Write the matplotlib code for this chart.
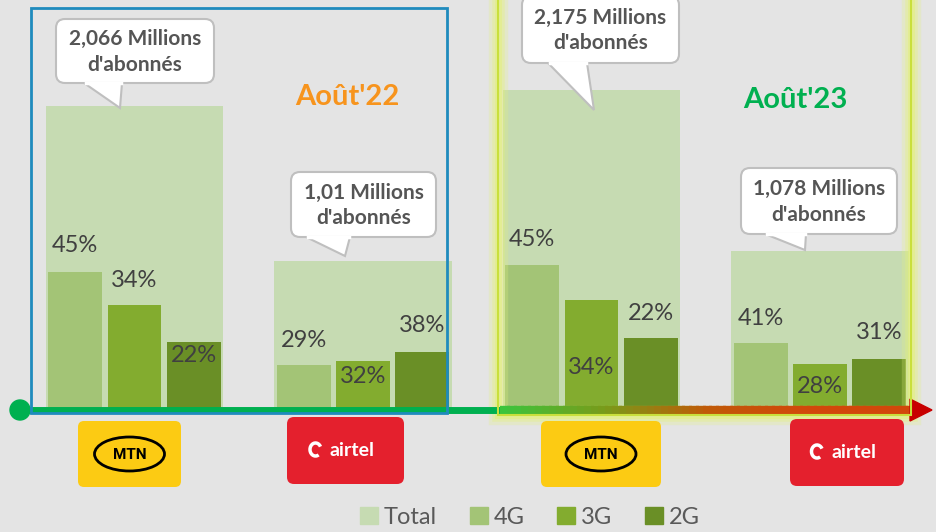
import numpy as np
import matplotlib
matplotlib.use('Agg')
import matplotlib.pyplot as plt
from matplotlib.patches import FancyBboxPatch, Rectangle, Ellipse, Polygon, Circle, Patch, Arc
from matplotlib.collections import LineCollection

operators = ['MTN', 'Airtel', 'MTN', 'Airtel']
periods = ["Août'22", "Août'23"]
totals = [2.066, 1.01, 2.175, 1.078]
share_4g = [45, 29, 45, 41]
share_3g = [34, 32, 34, 28]
share_2g = [22, 38, 22, 31]
total_labels = ["2,066 Millions\nd'abonnés", "1,01 Millions\nd'abonnés",
                "2,175 Millions\nd'abonnés", "1,078 Millions\nd'abonnés"]
legend_labels = ['Total', '4G', '3G', '2G']

W, H = 936, 532
BG = '#e4e4e4'
c_total, c_4g, c_3g, c_2g = '#c6dbb2', '#a3c476', '#83ac2f', '#6a8f26'
txt_grey = '#404040'

fig = plt.figure(figsize=(W / 100, H / 100), dpi=100)
fig.patch.set_facecolor(BG)

# data axes: x = operator index, y = millions of subscribers
ax = fig.add_axes([0, 0, 1, 1])
ax.set_facecolor('none')
px_per_unit = 228.5
px_per_m = 146
ax.set_xlim(-134.5 / px_per_unit, (W - 134.5) / px_per_unit)
ax.set_ylim(-124 / px_per_m, (H - 124) / px_per_m)
ax.axis('off')

x = np.arange(len(totals))
tot = np.array(totals)
v4 = tot * np.array(share_4g) / 100
v3 = tot * np.array(share_3g) / 100
v2 = tot * np.array(share_2g) / 100

ax.bar(x, tot, width=0.775, color=c_total, zorder=1)
sw, off = 0.236, 0.26
b4 = ax.bar(x - off, v4, width=sw, color=c_4g, zorder=2)
b3 = ax.bar(x, v3, width=sw, color=c_3g, zorder=2)
b2 = ax.bar(x + off, v2, width=sw, color=c_2g, zorder=2)

# label offsets in pixels (positive = above bar top, negative = inside)
offsets = [[27, 25, -14], [25, -16, 26], [26, -67, 25], [25, -23, 27]]
for i in range(len(totals)):
    for j, (bars, shares) in enumerate([(b4, share_4g), (b3, share_3g), (b2, share_2g)]):
        r = bars[i]
        ax.annotate(f'{shares[i]}%', (r.get_x() + r.get_width() / 2, r.get_height()),
                    xytext=(0, offsets[i][j] * 0.72), textcoords='offset points',
                    ha='center', va='center', fontsize=17, color=txt_grey,
                    family='Lato', zorder=5)

# overlay axes in pixel units for decorations
ov = fig.add_axes([0, 0, 1, 1])
ov.set_facecolor('none')
ov.set_xlim(0, W)
ov.set_ylim(H, 0)
ov.axis('off')

# Août'23 glow (under the timeline)
for lw, a in [(14, 0.25), (9, 0.35), (5, 0.5)]:
    ov.add_patch(Rectangle((498, -5), 413, 420, fill=False, ec='#e3f07a', lw=lw, alpha=a, zorder=1))

# timeline
ov.plot([20, 505], [410, 410], color='#00b050', lw=5, solid_capstyle='butt', zorder=2)
xs = np.linspace(500, 912, 60)
segs = [[(xs[k], 410), (xs[k + 1] + 3, 410)] for k in range(len(xs) - 1)]
grad = matplotlib.colors.LinearSegmentedColormap.from_list(
    'tl', ['#3cc43c', '#7a9a1a', '#c05a08', '#d2480a', '#d2480a'])
ov.add_collection(LineCollection(segs, colors=grad(np.linspace(0, 1, len(segs))), lw=6,
                                 capstyle='butt', zorder=2))
ov.add_patch(Polygon([(910, 399), (932, 410), (910, 421)], closed=True, color='#c80000', zorder=2))
ov.add_patch(Circle((20, 410), 10, color='#00b050', zorder=3))

# Août'22 frame
ov.add_patch(Rectangle((31, 8), 416, 405, fill=False, ec='#1f8bbd', lw=2, zorder=3))
# Août'23 frame line
ov.add_patch(Rectangle((498, -5), 413, 420, fill=False, ec='#c9df3c', lw=1.5, zorder=3))

ov.text(347, 97, periods[0], color='#f7941d', fontsize=21, fontweight='bold',
        family='Lato', ha='center', va='center')
ov.text(795, 100, periods[1], color='#00b050', fontsize=21, fontweight='bold',
        family='Lato', ha='center', va='center')

# callouts
boxes = [(56, 19, 158, 64), (291, 172, 145, 65), (522, -4, 157, 67), (741, 168, 156, 66)]
tails = [[(84, 83), (120, 108), (122, 83)], [(306, 237), (345, 256), (350, 237)],
         [(548, 63), (594, 110), (587, 63)], [(765, 234), (805, 250), (806, 234)]]
for (bx, by, bw, bh), tail, lab in zip(boxes, tails, total_labels):
    ov.add_patch(Polygon(tail, closed=True, fc='white', ec='#bfbfbf', lw=1.5, zorder=6))
    ov.add_patch(FancyBboxPatch((bx, by), bw, bh, boxstyle='round,pad=0,rounding_size=9',
                                fc='white', ec='#bfbfbf', lw=1.5, zorder=6))
    ov.plot([tail[0][0] + 1.5, tail[2][0] - 1.5], [by + bh, by + bh], color='white',
            lw=2.5, zorder=7)
    ov.text(bx + bw / 2, by + bh / 2 + 1, lab, ha='center', va='center', fontsize=15,
            fontweight='bold', color='#555555', family='Lato', linespacing=1.35, zorder=8)

# logos
logo_boxes = [(78, 421, 103, 66), (287, 417, 117, 67), (541, 421, 120, 66), (790, 419, 114, 67)]
for op, (lx, ly, lw_, lh) in zip(operators, logo_boxes):
    cx, cy = lx + lw_ / 2, ly + lh / 2
    if op == 'MTN':
        ov.add_patch(FancyBboxPatch((lx, ly), lw_, lh, boxstyle='round,pad=0,rounding_size=6',
                                    fc='#fccb13', ec='none', zorder=2))
        ov.add_patch(Ellipse((cx, cy), 70, 34, fill=False, ec='black', lw=2, zorder=3))
        ov.text(cx, cy + 1, 'MTN', ha='center', va='center', fontsize=11, fontweight='bold',
                color='black', family='Roboto', zorder=4)
    else:
        ov.add_patch(FancyBboxPatch((lx, ly), lw_, lh, boxstyle='round,pad=0,rounding_size=7',
                                    fc='#e4202d', ec='none', zorder=2))
        ov.add_patch(Arc((cx - 30, cy - 1), 11, 13, theta1=60, theta2=330, color='white',
                         lw=2.5, zorder=3))
        ov.text(cx + 7, cy, 'airtel', ha='center', va='center', fontsize=14,
                color='white', family='Lato', fontweight='bold', zorder=4)

# legend
handles = [Patch(color=c) for c in [c_total, c_4g, c_3g, c_2g]]
leg = ov.legend(handles, legend_labels, ncol=4, frameon=False, loc='center',
                bbox_to_anchor=(530 / W, 15 / H), bbox_transform=fig.transFigure,
                handlelength=0.75, handleheight=0.75, handletextpad=0.25,
                columnspacing=1.4, prop={'family': 'Lato', 'size': 17})
for t in leg.get_texts():
    t.set_color('#595959')

fig.savefig('out.png', dpi=100, facecolor=BG)
